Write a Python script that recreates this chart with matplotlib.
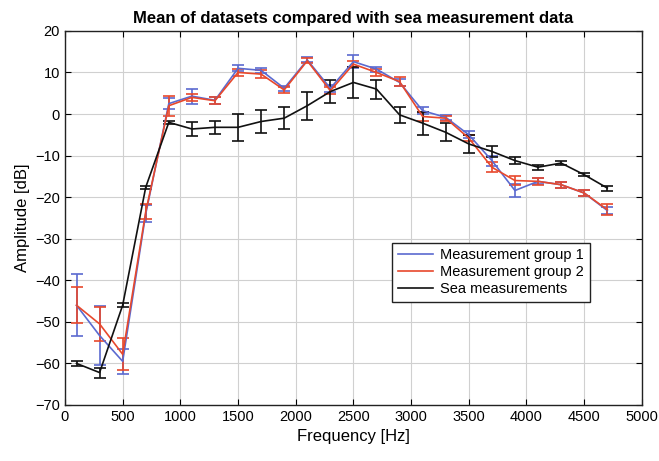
import numpy as np
import matplotlib.pyplot as plt
from matplotlib.lines import Line2D

plt.rcParams['font.family'] = ['Liberation Sans', 'DejaVu Sans']

# ------------------------------------------------------------
# Data
# ------------------------------------------------------------

freq_hz = np.arange(100, 4800, 200)

group1_mean = [-46, -53.3, -59.5, -24, 2.5, 4.3, 3.3, 11, 10.5, 6.2, 13, 6.2,
               12.6, 10.8, 7.6, 0.8, -0.8, -5, -11.2, -18.4, -16.2, -17, -19, -23.2]
group1_err = [7.5, 7, 3, 2, 1.3, 1.8, 0.8, 0.7, 0.6, 0.6, 0.6, 0.8,
              1.5, 0.6, 0.8, 0.8, 0.6, 0.8, 1.2, 1.6, 0.7, 0.7, 0.8, 0.9]

group2_mean = [-46, -50.5, -57.8, -23.5, 2, 4, 3.2, 10, 9.6, 5.8, 12.8, 5.6,
               12, 10, 7.8, -0.6, -1, -5.8, -12.8, -16, -16.2, -17, -19, -23]
group2_err = [4.3, 4, 3.8, 1.8, 2.4, 0.8, 0.8, 0.9, 0.9, 0.7, 0.6, 0.8,
              0.8, 0.8, 1, 1, 0.6, 0.8, 1.2, 1, 0.9, 0.7, 0.8, 1.4]

sea_mean = [-60, -62.2, -46, -17.6, -2, -3.6, -3.2, -3.2, -1.8, -1, 2, 5.4,
            7.6, 6, -0.2, -2.2, -4.4, -7.2, -9, -11.2, -12.8, -11.8, -14.6, -17.8]
sea_err = [0.7, 1.2, 0.5, 0.4, 0.4, 1.8, 1.5, 3.2, 2.8, 2.7, 3.4, 2.7,
           3.7, 2.3, 1.9, 2.8, 2.2, 2.1, 1.4, 0.8, 0.6, 0.4, 0.4, 0.6]

labels = ['Measurement group 1', 'Measurement group 2', 'Sea measurements']
colors = ['#5b6ad0', '#e8482c', '#111111']

# ------------------------------------------------------------
# Plot
# ------------------------------------------------------------

fig = plt.figure(figsize=(6.59, 4.61), dpi=100)
ax = fig.add_axes([0.0986, 0.1215, 0.8754, 0.8115])

series = [(group1_mean, group1_err), (group2_mean, group2_err), (sea_mean, sea_err)]
for (mean, err), c in zip(series, colors):
    ax.errorbar(freq_hz, mean, yerr=err, color=c, lw=1.2,
                capsize=4, capthick=1.2, elinewidth=1.2)

ax.set_xlim(0, 5000)
ax.set_ylim(-70, 20)
ax.set_xticks(np.arange(0, 5001, 500))
ax.set_yticks(np.arange(-70, 21, 10))
ax.grid(True, color='#d0d0d0', lw=0.8)
ax.set_axisbelow(True)
ax.tick_params(direction='in', top=True, right=True, labelsize=10.5, length=4)
for s in ax.spines.values():
    s.set_linewidth(1.0)
    s.set_color('#222222')

ax.set_xlabel('Frequency [Hz]', fontsize=12)
ax.set_ylabel('Amplitude [dB]', fontsize=12)
ax.set_title('Mean of datasets compared with sea measurement data',
             fontsize=12, fontweight='bold')

handles = [Line2D([], [], color=c, lw=1.2) for c in colors]
leg = ax.legend(handles, labels, loc='lower left', bbox_to_anchor=(0.567, 0.275),
                borderaxespad=0, fontsize=10.5, fancybox=False, framealpha=1,
                edgecolor='#222222', handlelength=2.4, handletextpad=0.5,
                borderpad=0.4, labelspacing=0.2)
leg.get_frame().set_linewidth(1.0)

fig.savefig('out.png', dpi=100)
